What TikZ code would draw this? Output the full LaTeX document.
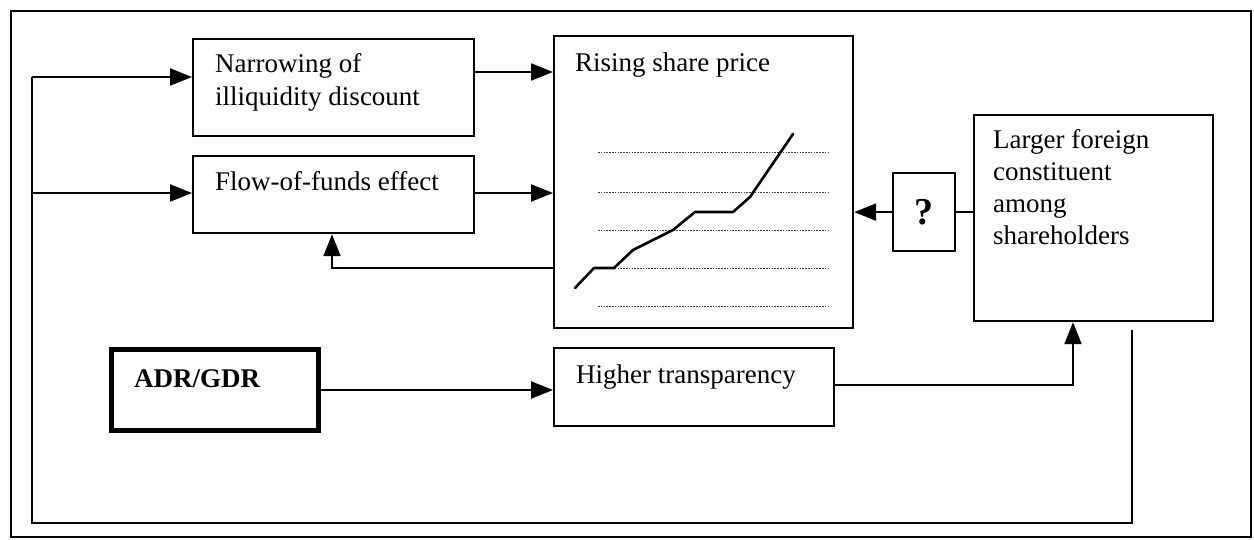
\documentclass[tikz,border=0pt]{standalone}
\usepackage{fontspec}
\setmainfont{Liberation Serif}
\usetikzlibrary{arrows.meta,calc}

\begin{document}
\begin{tikzpicture}[x=1pt,y=-1pt,
  box/.style={draw, line width=2.2pt, inner sep=0pt, anchor=north west},
  conn/.style={line width=2.2pt},
  arr/.style={line width=2.2pt, -{Triangle[length=22pt,width=17pt]}},
  lbl/.style={inner sep=0pt, align=left, font=\fontsize{27}{33}\selectfont},
  grid/.style={line width=1pt, black!75, dash pattern=on 1.6pt off 1.2pt},
  curve/.style={line width=2.6pt, line join=round, line cap=round}]

\useasboundingbox (0,0) rectangle (1254,540);

% outer frame
\draw[line width=1.8pt] (11,11) rectangle (1251,537);

% boxes
\node[box, minimum width=281pt, minimum height=97pt] (narrow) at (192,38) {};
\node[box, minimum width=281pt, minimum height=77pt] (flow) at (192,155) {};
\node[box, minimum width=299pt, minimum height=292pt] (rise) at (553,35) {};
\node[box, minimum width=62pt, minimum height=78pt] (q) at (892,172) {};
\node[box, minimum width=239pt, minimum height=206pt] (larger) at (973,114) {};
\node[box, line width=5pt, minimum width=207pt, minimum height=81pt] (adr) at (109,347) {};
\node[box, minimum width=280pt, minimum height=78pt] (higher) at (553,347) {};

% labels
\node[lbl, anchor=north west] (tnarrow) at (215,53.3) {Narrowing of\\illiquidity discount};
\node[lbl, anchor=base west] (tflow) at (215,191) {Flow-of-funds effect};
\node[lbl, anchor=base west] (trise) at (575,72) {Rising share price};
\node[lbl, anchor=north west, font=\fontsize{27}{32}\selectfont] (tlarger) at (993,129.3)
  {Larger foreign\\constituent\\among\\shareholders};
\node[lbl, anchor=base west, font=\fontsize{27}{33}\selectfont\bfseries] (tadr) at (134,387) {ADR/GDR};
\node[lbl, font=\fontsize{38}{40}\selectfont\bfseries] (tq) at (q.center) {?};

\node[lbl, anchor=base west] (thigher) at (576,383) {Higher transparency};

% price chart inside the share price box
\foreach \yy in {153,193,231,269,307}
  \draw[grid] (598,\yy) -- (828,\yy);
\draw[curve] (575,288) -- (594,268) -- (614,268) -- (633,250) -- (673,230)
  -- (695,212) -- (733,212) -- (750,197) -- (793,134);

% routing points
\coordinate (lt) at (32,77);
\coordinate (lf) at (32,193);
\coordinate (ll) at (32,523);
\coordinate (lr) at (1132,523);
\coordinate (a1) at (0,72);
\coordinate (fb) at (332,268);
\coordinate (hx) at (1073,385);

% feedback loop from the foreign shareholders back to the left
\draw[conn, shorten <=8pt] (lr |- larger.south) -- (lr) -- (ll) -- (lt);
\draw[arr] (lt) -- (narrow.west |- lt);
\draw[arr] (lf) -- (flow.west |- lf);

% into the share price
\draw[arr] (narrow.east |- a1) -- (rise.west |- a1);
\draw[arr] (flow.east |- lf) -- (rise.west |- lf);
\draw[arr] (rise.west |- fb) -- (fb) -- (fb |- flow.south);

% question mark link
\draw[conn] (larger.west |- q.east) -- (q.east);
\draw[arr] (q.west) -- (rise.east |- q.west);

% ADR/GDR chain
\draw[arr] (adr.east) -- (higher.west |- adr.east);
\draw[arr] (higher.east |- hx) -- (hx) -- (hx |- larger.south);
\end{tikzpicture}
\end{document}
